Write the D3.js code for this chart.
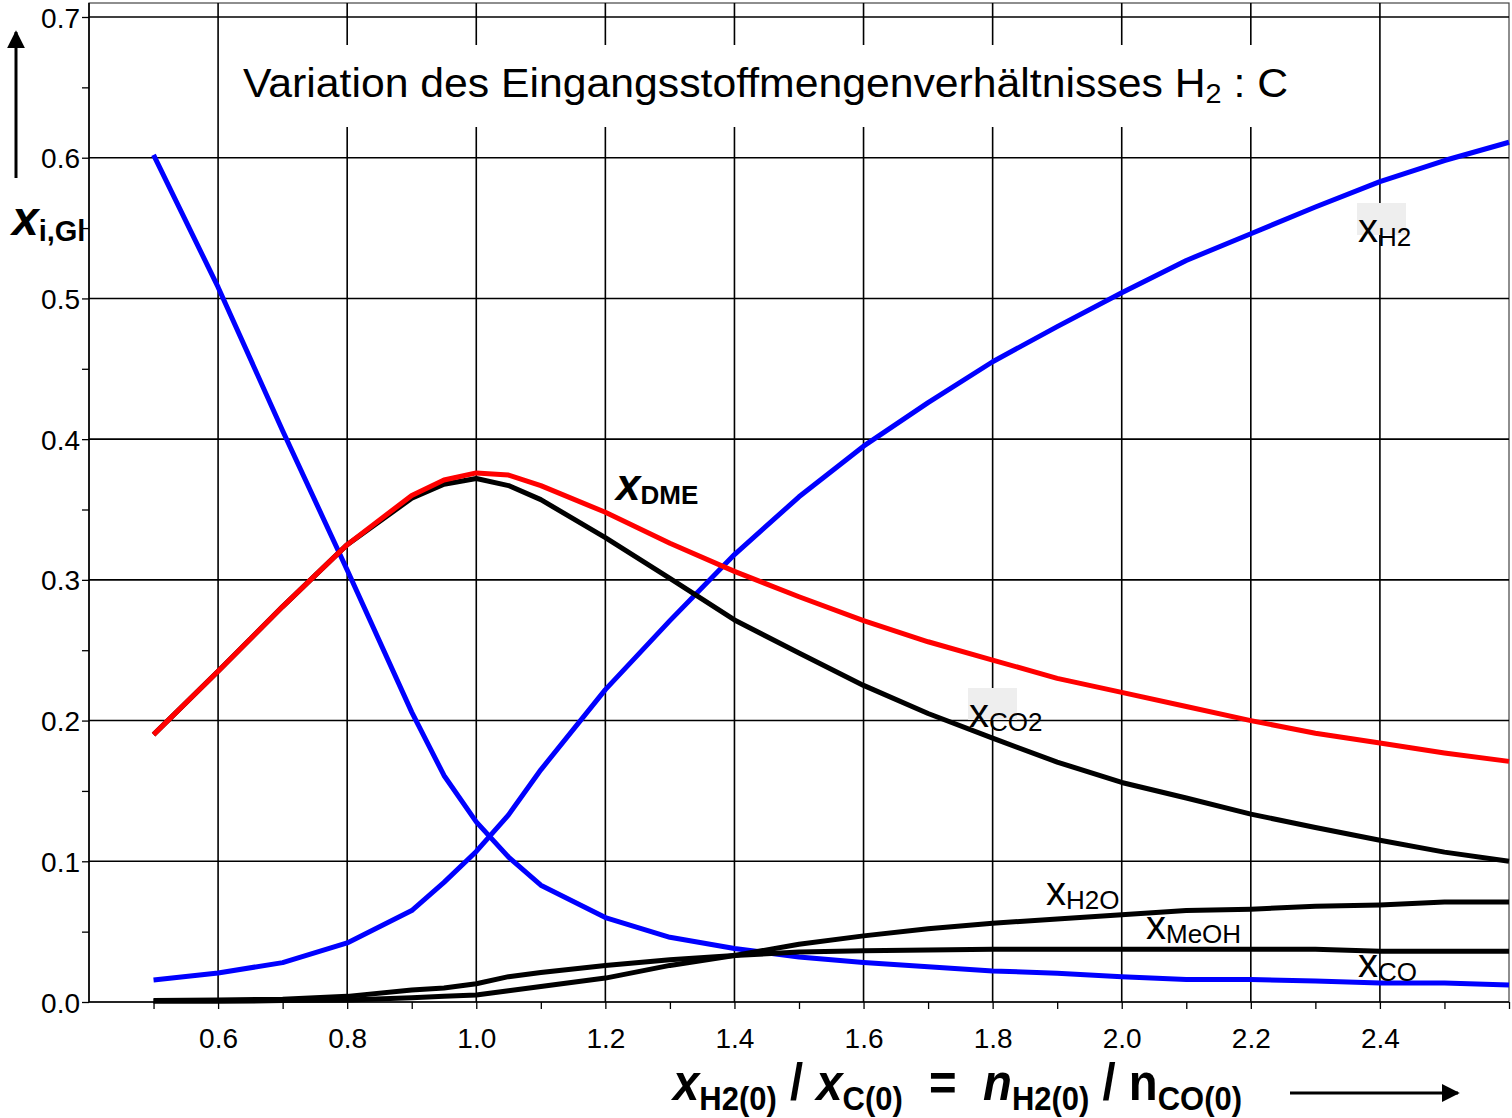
<!DOCTYPE html>
<html>
<head>
<meta charset="utf-8">
<script src="https://cdn.jsdelivr.net/npm/d3@7"></script>
<style>
  body { margin: 0; background: #fff; }
  svg { display: block; font-family: "Liberation Sans", Arial, sans-serif; }
</style>
</head>
<body>
<div id="chart"></div>
<script>
'use strict';

// H2 : C ratio (x axis)
var ratio = [0.5, 0.6, 0.7, 0.8, 0.9, 0.95, 1.0, 1.05, 1.1, 1.2, 1.3, 1.4, 1.5,
             1.6, 1.7, 1.8, 1.9, 2.0, 2.1, 2.2, 2.3, 2.4, 2.5, 2.6];

var xCO   = [0.602, 0.508, 0.406, 0.307, 0.206, 0.161, 0.128, 0.103, 0.083, 0.060, 0.046, 0.038, 0.032,
             0.028, 0.025, 0.022, 0.0205, 0.018, 0.016, 0.016, 0.015, 0.0135, 0.0135, 0.012];
var xH2   = [0.0156, 0.0206, 0.028, 0.042, 0.065, 0.085, 0.107, 0.133, 0.165, 0.222, 0.271, 0.318, 0.359,
             0.395, 0.426, 0.455, 0.480, 0.504, 0.527, 0.546, 0.565, 0.583, 0.598, 0.611];
var xDME  = [0.190, 0.235, 0.281, 0.325, 0.360, 0.371, 0.376, 0.3745, 0.367, 0.348, 0.326, 0.306, 0.288,
             0.271, 0.256, 0.243, 0.230, 0.220, 0.210, 0.200, 0.191, 0.184, 0.177, 0.171];
var xCO2  = [0.190, 0.235, 0.281, 0.325, 0.358, 0.368, 0.372, 0.367, 0.357, 0.330, 0.301, 0.2715, 0.248,
             0.225, 0.205, 0.1875, 0.1705, 0.156, 0.145, 0.1335, 0.124, 0.115, 0.1065, 0.100];
var xMeOH = [0.001, 0.0015, 0.002, 0.004, 0.0085, 0.010, 0.013, 0.018, 0.021, 0.026, 0.030, 0.033, 0.0355,
             0.0365, 0.037, 0.0375, 0.0375, 0.0375, 0.0375, 0.0375, 0.0375, 0.036, 0.036, 0.036];
var xH2O  = [0.0005, 0.0005, 0.001, 0.0015, 0.003, 0.004, 0.005, 0.008, 0.011, 0.017, 0.026, 0.033, 0.041,
             0.047, 0.052, 0.056, 0.059, 0.062, 0.065, 0.066, 0.068, 0.069, 0.071, 0.071];

var xTicks = [0.6, 0.8, 1.0, 1.2, 1.4, 1.6, 1.8, 2.0, 2.2, 2.4];
var yTicks = [0.0, 0.1, 0.2, 0.3, 0.4, 0.5, 0.6, 0.7];

var series = [
    {name: 'CO', values: xCO, color: '#0000ff'},
    {name: 'H2', values: xH2, color: '#0000ff'},
    {name: 'H2O', values: xH2O, color: '#000000'},
    {name: 'MeOH', values: xMeOH, color: '#000000'},
    {name: 'CO2', values: xCO2, color: '#000000'},
    {name: 'DME', values: xDME, color: '#ff0000'}
];

var W = 1512, H = 1118;
var plotLeft = 89, plotRight = 1509, plotTop = 17, plotBottom = 1002, frameTop = 3;

var svg = d3.select('#chart').append('svg')
    .attr('width', W)
    .attr('height', H);

var x = d3.scaleLinear().domain([0.4, 2.6]).range([plotLeft, plotRight]);
var y = d3.scaleLinear().domain([0, 0.7]).range([plotBottom, plotTop]);

var defs = svg.append('defs');
defs.append('marker')
    .attr('id', 'arrow')
    .attr('viewBox', '0 0 10 10')
    .attr('refX', 9).attr('refY', 5)
    .attr('markerWidth', 6).attr('markerHeight', 6)
    .attr('markerUnits', 'strokeWidth')
    .attr('orient', 'auto')
  .append('path')
    .attr('d', 'M0,0L10,5L0,10z')
    .attr('fill', '#000');

// outer frame
svg.append('rect')
    .attr('x', plotLeft).attr('y', frameTop)
    .attr('width', plotRight - plotLeft).attr('height', plotBottom - frameTop)
    .attr('fill', 'none')
    .attr('stroke', '#444')
    .attr('stroke-width', 1.2);

// grid
var grid = svg.append('g').attr('stroke', '#000').attr('stroke-width', 1.6);
grid.selectAll('.vg').data(xTicks).enter().append('line')
    .attr('x1', function(d) { return x(d); })
    .attr('x2', function(d) { return x(d); })
    .attr('y1', frameTop).attr('y2', plotBottom);
grid.selectAll('.hg').data(yTicks.slice(1)).enter().append('line')
    .attr('x1', plotLeft).attr('x2', plotRight)
    .attr('y1', function(d) { return y(d); })
    .attr('y2', function(d) { return y(d); });

// title box covers the grid
svg.append('rect')
    .attr('x', x(0.6) + 1.5).attr('y', 45)
    .attr('width', x(2.2) - x(0.6) + 1).attr('height', 82)
    .attr('fill', '#fff');

var title = svg.append('text')
    .attr('x', 243).attr('y', 97)
    .attr('font-size', 40)
    .attr('textLength', 1045)
    .attr('lengthAdjust', 'spacingAndGlyphs')
    .attr('fill', '#000');
title.append('tspan').text('Variation des Eingangsstoffmengenverhältnisses H');
title.append('tspan').attr('font-size', 27).attr('dy', 6).text('2');
title.append('tspan').attr('dy', -6).text(' : C');

// axes
var xAxis = d3.axisBottom(x)
    .tickValues(d3.range(5, 27).map(function(d) { return d / 10; }))
    .tickSize(7)
    .tickFormat(function(d) { return xTicks.some(function(t) { return Math.abs(t - d) < 1e-6; }) ? d3.format('.1f')(d) : ''; });
var gx = svg.append('g')
    .attr('transform', 'translate(0,' + plotBottom + ')')
    .call(xAxis);
gx.select('.domain').attr('d', 'M' + plotLeft + ',0H' + plotRight).attr('stroke-width', 1.6);
gx.selectAll('.tick line').attr('stroke-width', 1.3);
gx.selectAll('text')
    .attr('font-size', 28)
    .attr('font-family', '"Liberation Sans", Arial, sans-serif')
    .attr('fill', '#000')
    .attr('dy', '1.28em');

var yAxis = d3.axisLeft(y)
    .tickValues(d3.range(0, 15).map(function(d) { return d * 0.05; }))
    .tickSize(7)
    .tickFormat(function(d) { return Math.round(d * 100) % 10 === 0 ? d3.format('.1f')(d) : ''; });
var gy = svg.append('g')
    .attr('transform', 'translate(' + plotLeft + ',0)')
    .call(yAxis);
gy.select('.domain').attr('d', 'M0,' + frameTop + 'V' + plotBottom).attr('stroke-width', 1.6);
gy.selectAll('.tick line').attr('stroke-width', 1.3);
gy.selectAll('text')
    .attr('font-size', 28)
    .attr('font-family', '"Liberation Sans", Arial, sans-serif')
    .attr('fill', '#000')
    .attr('x', -9)
    .attr('dy', '0.36em');

// curves
var line = d3.line()
    .x(function(d, i) { return x(ratio[i]); })
    .y(function(d) { return y(d); });

svg.append('g').selectAll('path')
    .data(series)
    .enter()
    .append('path')
    .attr('d', function(d) { return line(d.values); })
    .attr('fill', 'none')
    .attr('stroke', function(d) { return d.color; })
    .attr('stroke-width', 5)
    .attr('stroke-linejoin', 'round');

// curve labels
function label(px, py, sub, opts) {
    opts = opts || {};
    if (opts.bg) {
        svg.append('rect')
            .attr('x', px - 1).attr('y', py - 39)
            .attr('width', 49).attr('height', 32)
            .attr('fill', '#eeeeee');
    }
    var t = svg.append('text')
        .attr('x', px).attr('y', py)
        .attr('fill', '#000')
        .attr('font-weight', opts.bold ? 'bold' : 'normal');
    t.append('tspan')
        .attr('font-size', opts.bold ? 44 : 40)
        .attr('font-style', opts.bold ? 'italic' : 'normal')
        .text('x');
    t.append('tspan')
        .attr('font-size', 26)
        .attr('dy', 4)
        .text(sub);
}
label(1358, 242, 'H2', {bg: true});
label(969, 727, 'CO2', {bg: true});
label(1046, 905, 'H2O');
label(1146, 939, 'MeOH');
label(1358, 977, 'CO');
label(616, 500, 'DME', {bold: true});

// y label
var yl = svg.append('text')
    .attr('x', 12).attr('y', 235)
    .attr('font-weight', 'bold')
    .attr('fill', '#000');
yl.append('tspan').attr('font-size', 48).attr('font-style', 'italic').text('x');
yl.append('tspan').attr('font-size', 29).attr('dy', 6).text('i,Gl');

svg.append('line')
    .attr('x1', 16).attr('y1', 178)
    .attr('x2', 16).attr('y2', 32)
    .attr('stroke', '#000').attr('stroke-width', 3)
    .attr('marker-end', 'url(#arrow)');

// x label (condensed bold)
var nb = '\u00a0';
var xl = svg.append('text')
    .attr('x', 673).attr('y', 1100)
    .attr('font-weight', 'bold')
    .attr('textLength', 569)
    .attr('lengthAdjust', 'spacingAndGlyphs')
    .attr('fill', '#000');
xl.append('tspan').attr('font-size', 52).attr('font-style', 'italic').text('x');
xl.append('tspan').attr('font-size', 34).attr('dy', 10).text('H2(0)');
xl.append('tspan').attr('font-size', 52).attr('dy', -10).text(nb + '/' + nb);
xl.append('tspan').attr('font-size', 52).attr('font-style', 'italic').text('x');
xl.append('tspan').attr('font-size', 34).attr('dy', 10).text('C(0)');
xl.append('tspan').attr('font-size', 52).attr('dy', -10).text(nb + nb + '=' + nb + nb);
xl.append('tspan').attr('font-size', 52).attr('font-style', 'italic').text('n');
xl.append('tspan').attr('font-size', 34).attr('dy', 10).text('H2(0)');
xl.append('tspan').attr('font-size', 52).attr('dy', -10).text(nb + '/' + nb + 'n');
xl.append('tspan').attr('font-size', 34).attr('dy', 10).text('CO(0)');

svg.append('line')
    .attr('x1', 1290).attr('y1', 1093)
    .attr('x2', 1458).attr('y2', 1093)
    .attr('stroke', '#000').attr('stroke-width', 3)
    .attr('marker-end', 'url(#arrow)');
</script>
</body>
</html>
